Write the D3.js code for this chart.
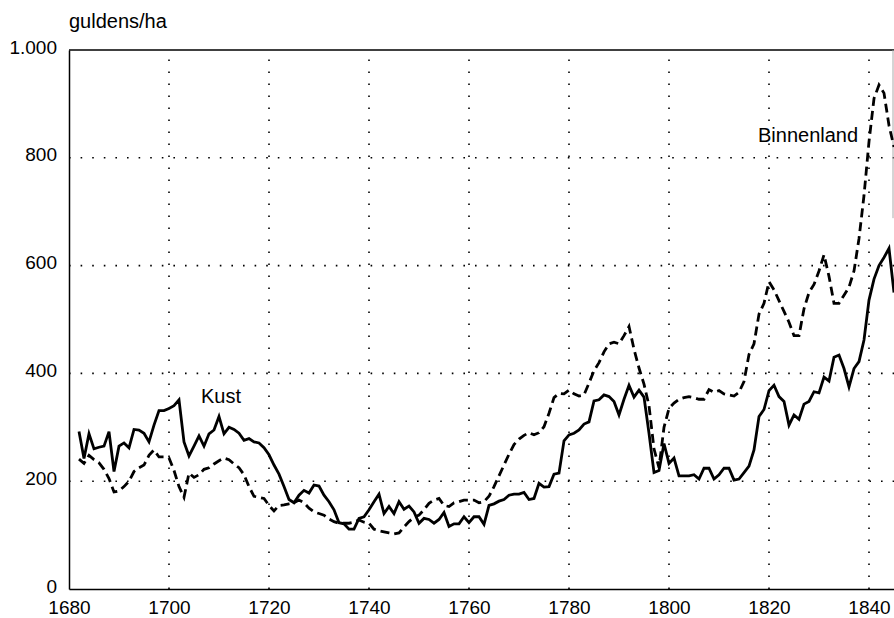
<!DOCTYPE html>
<html lang="nl">
<head>
  <meta charset="utf-8">
  <title>Grondprijzen kust en binnenland</title>
  <script src="https://cdnjs.cloudflare.com/ajax/libs/d3/7.8.5/d3.min.js"></script>
  <style>
    body { margin: 0; background: #fff; }
    svg { display: block; font-family: "Liberation Sans", Arial, sans-serif; }
  </style>
</head>
<body>
  <svg id="chart" width="894" height="618"></svg>

  <script>
    // jaarreeksen vanaf 1682, guldens per ha
    const firstYear = 1682

    const kust = [
      292, 242, 288, 260, 263, 265, 292, 218, 265, 271,   // 1682-1691
      262, 296, 295, 289, 273, 304, 331, 331, 335, 340,   // 1692-1701
      351, 273, 247, 265, 284, 265, 288, 295, 320, 288,   // 1702-1711
      300, 296, 289, 276, 279, 273, 271, 262, 249, 230,   // 1712-1721
      213, 190, 166, 160, 174, 183, 178, 193, 191, 174,   // 1722-1731
      162, 147, 123, 121, 111, 111, 131, 134, 147, 162,   // 1732-1741
      176, 140, 153, 140, 162, 148, 154, 143, 122, 131,   // 1742-1751
      129, 122, 129, 142, 116, 121, 121, 134, 123, 134,   // 1752-1761
      134, 120, 155, 158, 163, 166, 174, 176, 176, 179,   // 1762-1771
      166, 168, 196, 189, 190, 213, 215, 275, 286, 289,   // 1772-1781
      295, 306, 310, 349, 351, 360, 357, 348, 323, 352,   // 1782-1791
      378, 356, 369, 356, 289, 216, 220, 270, 233, 243,   // 1792-1801
      210, 210, 210, 212, 204, 224, 224, 204, 212, 224,   // 1802-1811
      224, 202, 204, 216, 228, 258, 320, 333, 368, 378,   // 1812-1821
      357, 348, 304, 323, 315, 343, 348, 366, 364, 393,   // 1822-1831
      386, 430, 434, 409, 375, 409, 422, 462, 536, 575,   // 1832-1841
      600, 615, 632, 550                                  // 1842-1845
    ]

    const binnenland = [
      241, 233, 248, 240, 234, 222, 205, 180, 182, 190,   // 1682-1691
      200, 218, 225, 230, 248, 258, 245, 245, 243, 220,   // 1692-1701
      190, 170, 215, 207, 212, 222, 225, 232, 238, 243,   // 1702-1711
      240, 232, 225, 212, 190, 172, 170, 168, 155, 145,   // 1712-1721
      155, 156, 158, 160, 165, 160, 150, 143, 140, 137,   // 1722-1731
      130, 125, 122, 122, 122, 124, 128, 124, 122, 111,   // 1732-1741
      108, 106, 104, 102, 104, 115, 125, 133, 137, 147,   // 1742-1751
      159, 165, 168, 155, 153, 160, 162, 165, 165, 165,   // 1752-1761
      160, 162, 172, 190, 210, 230, 250, 268, 278, 285,   // 1762-1771
      290, 286, 290, 301, 326, 355, 363, 362, 369, 362,   // 1772-1781
      358, 360, 382, 405, 420, 440, 455, 458, 455, 470,   // 1782-1791
      487, 445, 410, 380, 340, 260, 225, 300, 335, 345,   // 1792-1801
      352, 355, 357, 355, 352, 352, 370, 365, 368, 362,   // 1802-1811
      360, 358, 365, 385, 435, 455, 510, 530, 570, 555,   // 1812-1821
      535, 515, 495, 470, 470, 520, 550, 565, 590, 620,   // 1822-1831
      580, 530, 530, 545, 560, 590, 650, 730, 830, 910,   // 1832-1841
      935, 920, 860, 820                                  // 1842-1845
    ]

    const xTicks = [1680, 1700, 1720, 1740, 1760, 1780, 1800, 1820, 1840]
    const yTicks = [0, 200, 400, 600, 800, 1000]
    const yTickLabels = ["0", "200", "400", "600", "800", "1.000"]

    const toRows = values => values.map((v, i) => ({ year: firstYear + i, value: v }))

    let width = 894
    let height = 618
    let margin = { top: 50, right: 0, bottom: 29, left: 69 }

    let svg = d3.select("#chart")

    let x = d3.scaleLinear()
        .domain([1680, 1845])
        .range([margin.left, width - margin.right])

    let y = d3.scaleLinear()
        .domain([0, 1000])
        .range([height - margin.bottom, margin.top])

    // dotted grid
    svg.append("g")
        .selectAll("line")
        .data(xTicks.slice(1))
        .join("line")
        .attr("x1", d => x(d))
        .attr("x2", d => x(d))
        .attr("y1", y(0))
        .attr("y2", y(1000))
        .style("stroke", "#000")
        .style("stroke-width", "1.6px")
        .style("stroke-dasharray", "1.6,10.4")

    svg.append("g")
        .selectAll("line")
        .data(yTicks.slice(1, -1))
        .join("line")
        .attr("x1", x(1680))
        .attr("x2", width)
        .attr("y1", d => y(d))
        .attr("y2", d => y(d))
        .style("stroke", "#000")
        .style("stroke-width", "1.6px")
        .style("stroke-dasharray", "1.6,10")

    // frame
    svg.append("line")
        .attr("x1", x(1680))
        .attr("x2", width)
        .attr("y1", y(1000))
        .attr("y2", y(1000))
        .style("stroke", "#000")
        .style("stroke-width", "1.5px")

    svg.append("line")
        .attr("x1", width - 1)
        .attr("x2", width - 1)
        .attr("y1", y(1000))
        .attr("y2", y(688))
        .style("stroke", "#aaa")
        .style("stroke-width", "1px")

    let xAxis = svg.append("g")
        .attr("transform", `translate(0,${y(0)})`)
        .call(d3.axisBottom(x).tickValues(xTicks).tickFormat(d3.format("d")).tickSize(0).tickSizeOuter(0).tickPadding(11.5))

    let yAxis = svg.append("g")
        .attr("transform", `translate(${x(1680)},0)`)
        .call(d3.axisLeft(y).tickValues(yTicks).tickFormat((d, i) => yTickLabels[i]).tickSize(0).tickSizeOuter(0).tickPadding(12))

    yAxis.selectAll(".tick text").attr("dy", "0.16em")

    svg.selectAll(".domain")
        .style("stroke", "#000")
        .style("stroke-width", "1.5px")

    svg.selectAll(".tick text")
        .style("font-family", "'Liberation Sans', Arial, sans-serif")
        .style("font-size", "19px")
        .style("fill", "#000")

    let line = d3.line()
        .x(d => x(d.year))
        .y(d => y(d.value))

    svg.append("path")
        .datum(toRows(binnenland))
        .attr("d", line)
        .style("fill", "none")
        .style("stroke", "#000")
        .style("stroke-width", "2.8px")
        .style("stroke-dasharray", "9,5")

    svg.append("path")
        .datum(toRows(kust))
        .attr("d", line)
        .style("fill", "none")
        .style("stroke", "#000")
        .style("stroke-width", "2.8px")
        .style("stroke-linejoin", "miter")

    // labels
    svg.append("text")
        .attr("x", 69)
        .attr("y", 28)
        .style("font-size", "20px")
        .text("guldens/ha")

    svg.append("text")
        .attr("x", 201)
        .attr("y", 403)
        .style("font-size", "20px")
        .text("Kust")

    svg.append("text")
        .attr("x", 758)
        .attr("y", 142)
        .style("font-size", "20px")
        .text("Binnenland")
  </script>
</body>
</html>
